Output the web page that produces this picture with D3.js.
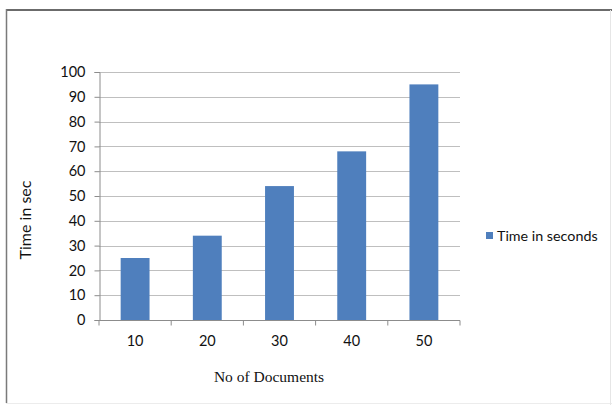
<!DOCTYPE html>
<html>
<head>
<meta charset="utf-8" />
<title>Time in seconds</title>
<style>
html, body {
    margin: 0;
    padding: 0;
    background: #fff;
}
#chart {
    width: 612px;
    height: 405px;
}
</style>
</head>
<body>
<div id="chart"></div>
<script src="https://d3js.org/d3.v7.min.js"></script>
<script>
// data
var documents = ["10", "20", "30", "40", "50"]
var seconds = [25, 34, 54, 68, 95]
var yTicks = [0, 10, 20, 30, 40, 50, 60, 70, 80, 90, 100]
var seriesName = "Time in seconds"

!(function(){
    "use strict"

    var width = 612, height = 405
    var plot = {left: 99, right: 460, top: 72, bottom: 320}
    var font = "Lato, 'Open Sans', sans-serif"

    var svg = d3.select("#chart").append("svg")
        .attr("width", width)
        .attr("height", height)

    // outer frame (the screenshot cuts it a bit)
    svg.append("line")
        .attr("x1", 6).attr("x2", width).attr("y1", 10).attr("y2", 10)
        .attr("stroke", "#6b6b6b").attr("stroke-width", 2)
    svg.append("line")
        .attr("x1", 6.5).attr("x2", 6.5).attr("y1", 9).attr("y2", height - 2)
        .attr("stroke", "#7a7a7a").attr("stroke-width", 1.5)
    svg.append("line")
        .attr("x1", 6).attr("x2", width).attr("y1", height - 1.5).attr("y2", height - 1.5)
        .attr("stroke", "#ececec").attr("stroke-width", 1)
    svg.append("line")
        .attr("x1", width - 1.5).attr("x2", width - 1.5).attr("y1", 10).attr("y2", height)
        .attr("stroke", "#e6e6e6").attr("stroke-width", 1)

    var x = d3.scaleBand()
        .domain(documents)
        .range([plot.left, plot.right])
        .paddingInner(0.6)
        .paddingOuter(0.3)

    var xb = d3.scaleBand()
        .domain(documents)
        .range([plot.left, plot.right])

    var y = d3.scaleLinear()
        .domain([0, 100])
        .range([plot.bottom, plot.top])

    // gridlines
    svg.append("g")
        .selectAll("line")
        .data(yTicks.filter(function(d){ return d > 0 }))
        .enter().append("line")
        .attr("x1", plot.left).attr("x2", plot.right)
        .attr("y1", function(d){ return Math.round(y(d)) + 0.5 })
        .attr("y2", function(d){ return Math.round(y(d)) + 0.5 })
        .attr("stroke", "#bfbfbf")
        .attr("stroke-width", 1.2)

    // bars
    svg.append("g")
        .selectAll("rect")
        .data(seconds)
        .enter().append("rect")
        .attr("x", function(d, i){ return x(documents[i]) })
        .attr("width", x.bandwidth())
        .attr("y", function(d){ return y(d) })
        .attr("height", function(d){ return y(0) - y(d) })
        .attr("fill", "#4f7fbd")

    // y axis
    var yAxis = svg.append("g")
        .attr("transform", "translate(" + (plot.left + 0.5) + ",0)")
        .call(d3.axisLeft(y).tickValues(yTicks).tickSize(5).tickPadding(9))
    yAxis.select(".domain").attr("stroke", "#8c8c8c")
    yAxis.selectAll(".tick line").attr("stroke", "#8c8c8c")
    yAxis.selectAll("text")
        .attr("font-family", font)
        .attr("font-size", "14.5px")
        .attr("fill", "#111")

    // x axis
    var xAxis = svg.append("g")
        .attr("transform", "translate(0," + (plot.bottom + 0.5) + ")")
    xAxis.append("line")
        .attr("x1", plot.left).attr("x2", plot.right)
        .attr("stroke", "#8c8c8c")
    xAxis.selectAll(".xtick")
        .data(documents.concat(["end"]))
        .enter().append("line")
        .attr("class", "xtick")
        .attr("x1", function(d, i){ return i < documents.length ? xb(d) : plot.right })
        .attr("x2", function(d, i){ return i < documents.length ? xb(d) : plot.right })
        .attr("y1", 0).attr("y2", 5)
        .attr("stroke", "#8c8c8c")
    xAxis.selectAll("text")
        .data(documents)
        .enter().append("text")
        .attr("x", function(d){ return xb(d) + xb.bandwidth() / 2 })
        .attr("y", 25)
        .attr("text-anchor", "middle")
        .attr("font-family", font)
        .attr("font-size", "14.5px")
        .attr("fill", "#111")
        .text(function(d){ return d })

    // axis titles
    svg.append("text")
        .attr("x", 269)
        .attr("y", 382)
        .attr("text-anchor", "middle")
        .attr("font-family", "'Liberation Serif', 'DejaVu Serif', serif")
        .attr("font-size", "15.5px")
        .attr("fill", "#111")
        .text("No of Documents")

    svg.append("text")
        .attr("transform", "translate(31,220) rotate(-90)")
        .attr("text-anchor", "middle")
        .attr("font-family", font)
        .attr("font-size", "16px")
        .attr("fill", "#111")
        .text("Time in sec")

    // legend
    var legend = svg.append("g").attr("transform", "translate(486,232)")
    legend.append("rect")
        .attr("width", 7).attr("height", 7)
        .attr("fill", "#4f7fbd")
    legend.append("text")
        .attr("x", 11).attr("y", 9)
        .attr("font-family", font)
        .attr("font-size", "14.3px")
        .attr("fill", "#111")
        .text(seriesName)
}());
</script>
</body>
</html>
